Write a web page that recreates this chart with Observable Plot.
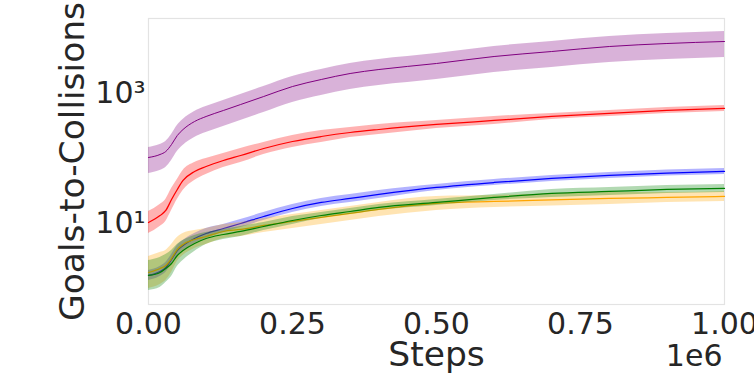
<!DOCTYPE html>
<html>
<head>
<meta charset="utf-8">
<script src="https://cdn.jsdelivr.net/npm/d3@7"></script>
<script src="https://cdn.jsdelivr.net/npm/@observablehq/plot@0.6"></script>
<style>
  html, body { margin: 0; padding: 0; background: #fff; overflow: hidden; }
  #chart svg { display: block; }
</style>
</head>
<body>
<div id="chart"></div>
<script>
const steps = [0, 20000, 30000, 40000, 50000, 60000, 80000, 100000, 130000, 160000, 200000, 250000, 300000, 350000, 400000, 500000, 600000, 700000, 800000, 900000, 1000000];

const purpleMean = [86.79, 96.52, 107.3, 137.6, 189.2, 234.0, 310.7, 370.9, 458.7, 567.3, 753.2, 1073, 1376, 1701, 1960, 2425, 3107, 3709, 4427, 4924, 5285];
const purpleHi   = [123.7, 137.6, 152.9, 196.1, 269.6, 333.5, 442.8, 528.6, 653.7, 808.5, 1073, 1529, 1961, 2424, 2793, 3456, 4428, 5286, 6309, 7017, 7532];
const purpleLo   = [49.24, 54.76, 60.87, 78.06, 107.3, 132.7, 176.3, 210.4, 260.2, 321.8, 427.3, 608.7, 780.6, 965.0, 1112, 1376, 1763, 2104, 2511, 2793, 2998];

const redMean = [8.679, 11.12, 13.28, 19.60, 27.94, 38.43, 52.85, 63.10, 78.04, 93.16, 119.4, 153.0, 182.6, 210.4, 234.0, 279.4, 321.9, 370.9, 412.5, 458.7, 492.4];
const redHi   = [12.81, 16.42, 19.61, 28.94, 39.82, 54.77, 72.70, 83.77, 100.0, 119.4, 147.7, 189.2, 225.8, 251.2, 279.3, 321.9, 370.9, 412.5, 458.7, 510.1, 547.6];
const redLo   = [5.878, 7.531, 8.994, 13.27, 19.61, 26.97, 38.42, 47.53, 60.90, 72.70, 96.54, 123.7, 147.6, 176.2, 196.0, 242.5, 279.4, 333.5, 370.9, 412.5, 442.8];

const blueMean = [1.328, 1.530, 1.763, 2.340, 3.219, 3.843, 4.924, 5.878, 7.017, 8.377, 10.73, 14.25, 17.63, 20.31, 23.40, 29.99, 35.80, 41.25, 45.87, 50.10, 52.85];
const blueHi   = [1.585, 1.827, 2.105, 2.794, 3.843, 4.588, 5.878, 7.017, 8.085, 9.652, 12.36, 16.42, 20.31, 23.40, 26.96, 33.35, 39.81, 45.87, 51.01, 55.72, 58.77];
const blueLo   = [1.112, 1.282, 1.477, 1.960, 2.696, 3.219, 4.125, 4.924, 6.090, 7.270, 9.313, 12.37, 15.30, 17.63, 20.31, 26.97, 32.19, 37.09, 41.25, 45.05, 47.52];

const greenMean = [1.328, 1.477, 1.701, 2.031, 2.696, 3.219, 4.125, 4.924, 5.673, 6.310, 7.532, 9.316, 11.12, 12.81, 14.77, 17.63, 21.04, 24.25, 26.03, 27.94, 28.94];
const greenHi   = [2.259, 2.513, 2.793, 3.219, 3.981, 4.587, 5.476, 6.090, 6.772, 7.533, 8.678, 10.73, 12.37, 14.25, 16.43, 19.61, 23.40, 27.94, 29.99, 32.19, 33.34];
const greenLo   = [0.7806, 0.8682, 1.036, 1.281, 1.826, 2.259, 3.107, 3.981, 4.752, 5.286, 6.537, 8.085, 9.999, 11.52, 13.28, 15.85, 18.92, 21.05, 22.59, 24.25, 25.12];

const orangeMean = [1.477, 1.701, 1.892, 2.425, 3.335, 3.981, 4.753, 5.285, 6.310, 6.773, 7.804, 8.992, 10.36, 11.94, 13.76, 17.01, 18.26, 19.26, 20.31, 21.04, 21.80];
const orangeHi   = [2.603, 2.998, 3.219, 3.982, 5.102, 5.878, 6.538, 7.016, 8.086, 8.679, 10.00, 11.52, 13.28, 15.30, 17.63, 21.80, 22.58, 23.82, 25.12, 25.12, 26.03];
const orangeLo   = [0.8380, 0.9650, 1.112, 1.477, 2.180, 2.696, 3.455, 3.981, 4.924, 5.286, 6.090, 7.017, 8.085, 9.318, 10.74, 13.27, 14.76, 15.57, 16.42, 17.62, 18.26];

const seriesNames  = ["purple", "red", "blue", "orange", "green"];
const seriesColors = ["purple", "red", "blue", "orange", "green"];
const seriesMeans  = [purpleMean, redMean, blueMean, orangeMean, greenMean];
const seriesHis    = [purpleHi, redHi, blueHi, orangeHi, greenHi];
const seriesLos    = [purpleLo, redLo, blueLo, orangeLo, greenLo];

const xTicks = [0, 250000, 500000, 750000, 1000000];
const yTicks = [10, 1000];
const yTickLabels = ["10\u00B9", "10\u00B3"];
const xLabel = "Steps";
const yLabel = "Goals-to-Collisions";
const xOffsetLabel = "1e6";

const rows = [];
seriesNames.forEach((name, s) => {
  steps.forEach((x, i) => {
    rows.push({series: name, x, mean: seriesMeans[s][i], lo: seriesLos[s][i], hi: seriesHis[s][i]});
  });
});

const textColor = "#262626";
const font = "DejaVu Sans";

const marks = [];
seriesNames.forEach((name, s) => {
  const d = rows.filter(r => r.series === name);
  marks.push(Plot.areaY(d, {x: "x", y1: "lo", y2: "hi", fill: seriesColors[s], fillOpacity: 0.3, curve: "monotone-x"}));
  marks.push(Plot.lineY(d, {x: "x", y: "mean", stroke: seriesColors[s], strokeWidth: name === "purple" ? 1 : 1.25, curve: "monotone-x"}));
});

const chart = Plot.plot({
  width: 754,
  height: 381,
  marginLeft: 148,
  marginRight: 30,
  marginTop: 18,
  marginBottom: 77,
  style: {fontFamily: font, color: textColor, background: "#fff", overflow: "visible"},
  x: {domain: [0, 1000000]},
  y: {type: "log", domain: [0.475, 11940]},
  marks: [
    Plot.frame({stroke: "#e3e3e3", strokeWidth: 1.2}),
    ...marks,
    Plot.axisX({ticks: xTicks, tickSize: 0, tickPadding: 8, tickFormat: d => (d / 1e6).toFixed(2), fontSize: 30, fill: textColor, label: null}),
    Plot.axisY({ticks: yTicks, tickSize: 0, tickPadding: 3, dy: 5, tickFormat: d => yTickLabels[yTicks.indexOf(d)], fontSize: 30, fill: textColor, label: null}),
    Plot.text([xLabel], {frameAnchor: "bottom", dy: 61, text: d => d, fontSize: 34.5, fill: textColor, textAnchor: "middle", lineAnchor: "bottom"}),
    Plot.text([xOffsetLabel], {frameAnchor: "bottom-right", dx: -2, dy: 61, textAnchor: "end", text: d => d, fontSize: 30, fill: textColor, lineAnchor: "bottom"}),
    Plot.text([yLabel], {frameAnchor: "left", dx: -76, rotate: -90, text: d => d, fontSize: 34.5, fill: textColor, textAnchor: "middle", lineAnchor: "middle"})
  ]
});

document.getElementById("chart").appendChild(chart);
</script>
</body>
</html>
